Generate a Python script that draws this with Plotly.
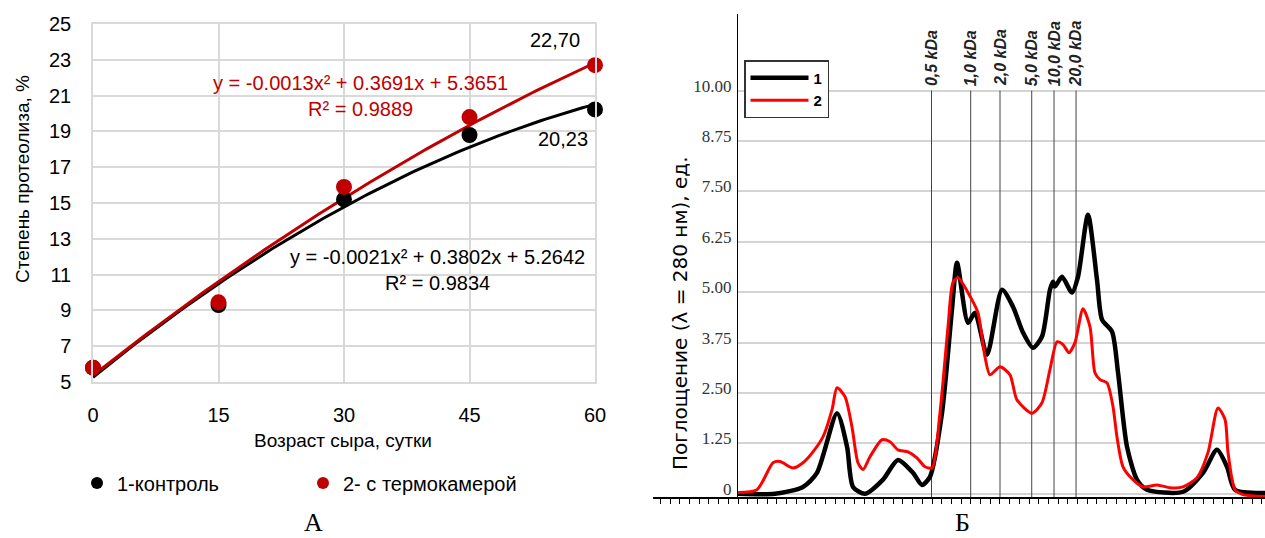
import numpy as np
import plotly.graph_objects as go

W, H = 1265, 538

# ---------- Panel А: degree of proteolysis vs cheese age ----------
days = [0, 15, 30, 45, 60]
control = [5.8, 9.3, 15.2, 18.8, 20.23]
thermo = [5.8, 9.45, 15.9, 19.8, 22.70]
# quadratic trendline coefficients a*x^2 + b*x + c
fit_control = [-0.0021, 0.3802, 5.2642]
fit_thermo = [-0.0013, 0.3691, 5.3651]
r2_control = 0.9834
r2_thermo = 0.9889
series_names = ["1-контроль", "2- с термокамерой"]

# ---------- Panel Б: elution profiles ----------
frac_1 = [0.0, 3.81, 6.70, 8.14, 10.21, 11.24, 11.86, 13.09, 14.95, 16.49, 18.04,
          18.97, 19.79, 21.03, 22.06, 22.58, 23.71, 24.43, 25.67, 27.22, 28.35,
          29.38, 30.41, 31.34, 32.16, 32.47, 32.68, 33.40, 34.43, 35.05, 36.08,
          37.01, 37.53, 38.56, 39.18, 40.10, 41.13, 42.16, 45.88, 47.94, 49.38,
          50.41, 51.24, 54.33]
abs_1 = [0.0, 0.0, 0.17, 0.52, 2.0, 1.17, 0.17, 0.0, 0.35, 0.84, 0.52,
         0.22, 0.42, 2.0, 4.57, 5.73, 4.24, 4.49, 3.45, 5.06, 4.64,
         4.0, 3.62, 3.9, 5.06, 5.26, 5.14, 5.38, 4.99, 5.38, 6.92,
         5.31, 4.32, 4.02, 3.0, 1.17, 0.35, 0.1, 0.05, 0.52, 1.09,
         0.67, 0.1, 0.02]
frac_2 = [0.0, 1.96, 3.61, 4.33, 5.67, 6.70, 7.73, 8.76, 9.69, 10.21, 11.03,
          11.75, 12.37, 12.89, 13.61, 14.85, 15.67, 16.49, 17.53, 18.45, 19.28,
          20.0, 20.82, 21.65, 22.16, 22.68, 24.12, 24.74, 25.46, 25.98, 27.01,
          28.04, 28.76, 30.31, 31.34, 32.16, 32.89, 33.51, 34.12, 34.74, 35.57,
          36.29, 36.80, 37.32, 38.04, 38.66, 39.07, 39.69, 40.72, 41.75, 43.20,
          44.54, 45.88, 47.32, 48.45, 49.48, 50.21, 50.52, 51.24, 52.06, 54.33]
abs_2 = [0.03, 0.1, 0.77, 0.8, 0.64, 0.77, 1.04, 1.41, 2.08, 2.63, 2.41,
         1.66, 0.77, 0.6, 0.92, 1.34, 1.29, 1.09, 1.04, 0.89, 0.67,
         0.64, 2.0, 4.14, 5.24, 5.36, 4.81, 4.49, 3.4, 2.95, 3.15,
         2.95, 2.33, 2.0, 2.26, 3.08, 3.77, 3.7, 3.5, 3.75, 4.59,
         4.14, 3.0, 2.83, 2.75, 2.16, 1.41, 0.67, 0.35, 0.17, 0.22,
         0.15, 0.17, 0.4, 1.02, 2.13, 1.84, 1.02, 0.1, -0.02, -0.07]
profile_names = ["1", "2"]
mw_labels = ["0,5 kDa", "1,0 kDa", "2,0 kDa", "5,0 kDa", "10,0 kDa", "20,0 kDa"]
mw_pos = [19.95, 23.99, 27.01, 30.28, 32.58, 34.85]
abs_ticks = [0, 1.25, 2.5, 3.75, 5.0, 6.25, 7.5, 8.75, 10.0]
abs_ticktext = ["0", "1.25", "2.50", "3.75", "5.00", "6.25", "7.50", "8.75", "10.00"]

RED_A = "#c00000"
SANS = "Liberation Sans, Arial, sans-serif"
SERIF = "Liberation Serif, Times New Roman, serif"


def px(x, y):
    """Pixel position on the page -> paper coordinates."""
    return x / W, 1 - y / H


def quad(c, x):
    return c[0] * x ** 2 + c[1] * x + c[2]


def note(text, pos, size, color="black", family=SANS, angle=0):
    x, y = px(*pos)
    return dict(text=text, x=x, y=y, xref="paper", yref="paper", showarrow=False,
                xanchor="center", yanchor="middle", align="center", textangle=angle,
                font=dict(family=family, size=size, color=color))


fig = go.Figure()

# trendlines
xs = np.linspace(days[0], days[-1], 121)
fig.add_trace(go.Scatter(x=xs, y=quad(fit_control, xs), mode="lines",
                         line=dict(color="black", width=3), showlegend=False,
                         hoverinfo="skip", xaxis="x", yaxis="y"))
fig.add_trace(go.Scatter(x=xs, y=quad(fit_thermo, xs), mode="lines",
                         line=dict(color=RED_A, width=3), showlegend=False,
                         hoverinfo="skip", xaxis="x", yaxis="y"))
# measured points
fig.add_trace(go.Scatter(x=days, y=control, mode="markers", name=series_names[0],
                         marker=dict(color="black", size=16), cliponaxis=False,
                         legend="legend", xaxis="x", yaxis="y"))
fig.add_trace(go.Scatter(x=days, y=thermo, mode="markers", name=series_names[1],
                         marker=dict(color=RED_A, size=16), cliponaxis=False,
                         legend="legend", xaxis="x", yaxis="y"))

# elution profiles
fig.add_trace(go.Scatter(x=frac_1, y=abs_1, mode="lines", name=profile_names[0],
                         line=dict(color="black", width=4.5, shape="spline", smoothing=0.7),
                         legend="legend2", xaxis="x2", yaxis="y2"))
fig.add_trace(go.Scatter(x=frac_2, y=abs_2, mode="lines", name=profile_names[1],
                         line=dict(color="#ff0000", width=3, shape="spline", smoothing=0.7),
                         legend="legend2", xaxis="x2", yaxis="y2"))
# left stub of the fraction axis
fig.add_trace(go.Scatter(x=[], y=[], xaxis="x3", yaxis="y3", showlegend=False))

Y2_RANGE = [-0.08, 11.9]
X2_MAX = 54.33
X3_MIN = -8.76

shapes = []
for p in mw_pos:
    shapes.append(dict(type="line", xref="x2", yref="y2", x0=p, x1=p,
                       y0=Y2_RANGE[0], y1=abs_ticks[-1], layer="between",
                       line=dict(color="#444444", width=1)))

annotations = []
# trendline equations
for coeffs, r2, pos, col in [(fit_thermo, r2_thermo, (360, 96), RED_A),
                             (fit_control, r2_control, (437, 270), "black")]:
    a, b, c = coeffs
    txt = f"y = {a:.4f}x² + {b:.4f}x + {c:.4f}<br>R² = {r2:.4f}"
    annotations.append(note(txt, pos, 20, col))
# end-point value labels
annotations.append(dict(text=f"{thermo[-1]:.2f}".replace(".", ","), x=days[-1], y=thermo[-1],
                        xref="x", yref="y", showarrow=False, xshift=-40, yshift=25,
                        xanchor="center", yanchor="middle",
                        font=dict(family=SANS, size=20, color="black")))
annotations.append(dict(text=f"{control[-1]:.2f}".replace(".", ","), x=days[-1], y=control[-1],
                        xref="x", yref="y", showarrow=False, xshift=-32, yshift=-30,
                        xanchor="center", yanchor="middle",
                        font=dict(family=SANS, size=20, color="black")))
# axis titles
annotations.append(note("Степень протеолиза, %", (22, 179), 19, angle=-90))
annotations.append(note("Возраст сыра, сутки", (343, 440), 19))
annotations.append(note("Поглощение (λ = 280 нм), ед.", (680, 313), 20,
                        family="DejaVu Sans, sans-serif", angle=-90))
# molecular weight markers
for lab, p in zip(mw_labels, mw_pos):
    annotations.append(dict(text=f"<b><i>{lab}</i></b>", x=p, y=abs_ticks[-1], xref="x2",
                            yref="y2", showarrow=False, textangle=-90,
                            xanchor="center", yanchor="bottom", yshift=2,
                            font=dict(family=SANS, size=16, color="#222222")))
# panel letters
for letter, cx in [("А", 313), ("Б", 962)]:
    annotations.append(note(letter, (cx, 522), 26, family=SERIF))

grid_a = "#d9d9d9"
fig.update_layout(
    width=W, height=H, margin=dict(l=0, r=0, t=0, b=0, autoexpand=False),
    paper_bgcolor="white", plot_bgcolor="white",
    showlegend=True,
    xaxis=dict(domain=[93 / W, 595 / W], range=[0, 60], tick0=0, dtick=15,
               showgrid=True, gridcolor=grid_a, gridwidth=1.5, zeroline=False,
               showline=True, linecolor=grid_a, linewidth=1.5, mirror=True,
               ticks="", ticklabelstandoff=14, automargin=False,
               tickfont=dict(family=SANS, size=20, color="black"), anchor="y"),
    yaxis=dict(domain=[1 - 382 / H, 1 - 24 / H], range=[5, 25], tick0=5, dtick=2,
               showgrid=True, gridcolor=grid_a, gridwidth=1.5, zeroline=False,
               showline=True, linecolor=grid_a, linewidth=1.5, mirror=True,
               ticks="", ticklabelstandoff=16, automargin=False,
               tickfont=dict(family=SANS, size=20, color="black"), anchor="x"),
    xaxis2=dict(domain=[738 / W, 1.0], range=[0, X2_MAX], tick0=0, dtick=1,
                showgrid=False, zeroline=False, showticklabels=False, automargin=False,
                showline=True, linecolor="black", linewidth=1.5,
                ticks="outside", ticklen=5, tickwidth=1, tickcolor="black", anchor="y2"),
    yaxis2=dict(domain=[1 - 497 / H, 1 - 14 / H], range=Y2_RANGE,
                tickvals=abs_ticks, ticktext=abs_ticktext, automargin=False,
                showgrid=True, gridcolor="#d4d4d4", gridwidth=1.5, zeroline=False,
                showline=True, linecolor="black", linewidth=1.2, ticks="",
                ticklabelstandoff=2, ticklabelshift=-5,
                tickfont=dict(family=SERIF, size=17, color="#333333"), anchor="x2"),
    xaxis3=dict(domain=[653 / W, 738 / W], range=[X3_MIN, 0], tick0=0, dtick=1,
                showgrid=False, zeroline=False, showticklabels=False, automargin=False,
                showline=True, linecolor="black", linewidth=1.5,
                ticks="outside", ticklen=5, tickwidth=1, tickcolor="black", anchor="y3"),
    yaxis3=dict(domain=[1 - 497 / H, 1 - 14 / H], range=Y2_RANGE, visible=False,
                showgrid=False, zeroline=False, anchor="x3", automargin=False),
    legend=dict(orientation="h", x=px(77, 0)[0], y=px(0, 483)[1],
                xanchor="left", yanchor="middle", bgcolor="rgba(0,0,0,0)",
                font=dict(family=SANS, size=20, color="black"),
                entrywidthmode="pixels", entrywidth=181, itemsizing="constant"),
    legend2=dict(x=px(744, 0)[0], y=px(0, 60)[1], xanchor="left", yanchor="top",
                 bgcolor="white", bordercolor="#333333", borderwidth=1.5,
                 font=dict(family=SANS, size=15, color="black", weight=700),
                 itemwidth=58, tracegroupgap=0),
    shapes=shapes,
    annotations=annotations,
)

fig.write_html("out.html")
